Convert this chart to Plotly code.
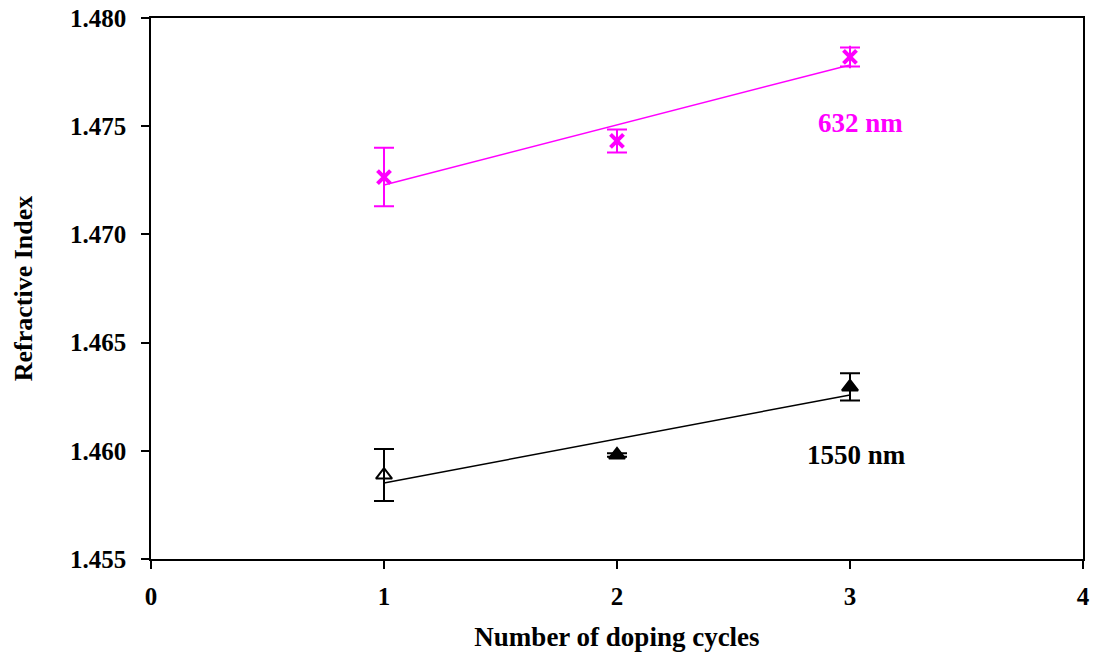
import numpy as np
import plotly.graph_objects as go

# Doping cycles and measured refractive indices
cycles = [1, 2, 3]
n_632 = [1.47265, 1.47432, 1.47820]
err_632 = [0.00135, 0.00053, 0.00044]
n_1550 = [1.45888, 1.45981, 1.46295]
err_1550 = [0.00120, 0.00008, 0.00063]

x_ticks = [0, 1, 2, 3, 4]
y_ticks = [1.455, 1.460, 1.465, 1.470, 1.475, 1.480]

MAGENTA = "#FF00FF"
FONT = "Liberation Serif"

fig = go.Figure()

# Linear fits
for ys, col in [(n_632, MAGENTA), (n_1550, "black")]:
    k, b = np.polyfit(cycles, ys, 1)
    xf = [cycles[0], cycles[-1]]
    fig.add_trace(go.Scatter(x=xf, y=[k * v + b for v in xf], mode="lines",
                             line=dict(color=col, width=1.5), showlegend=False,
                             hoverinfo="skip"))

# 632 nm points (star = cross + vertical stroke)
fig.add_trace(go.Scatter(
    x=cycles, y=n_632, mode="markers",
    marker=dict(symbol="x-thin-open", size=13, color=MAGENTA,
                line=dict(color=MAGENTA, width=4)),
    error_y=dict(type="data", array=err_632, visible=True, color=MAGENTA,
                 thickness=2, width=10),
    showlegend=False))
fig.add_trace(go.Scatter(
    x=cycles, y=n_632, mode="markers",
    marker=dict(symbol="line-ns-open", size=16, color=MAGENTA,
                line=dict(color=MAGENTA, width=2)),
    showlegend=False, hoverinfo="skip"))

# 1550 nm points (first one open)
fig.add_trace(go.Scatter(
    x=cycles, y=n_1550, mode="markers",
    marker=dict(symbol=["triangle-up-open", "triangle-up", "triangle-up"], size=14,
                color="black", line=dict(color="black", width=2)),
    error_y=dict(type="data", array=err_1550, visible=True, color="black",
                 thickness=2, width=10),
    showlegend=False))

fig.add_annotation(x=3.043, y=1.47515, text="<b>632 nm</b>", showarrow=False,
                   xanchor="center", yanchor="middle",
                   font=dict(family=FONT, size=27, color=MAGENTA))
fig.add_annotation(x=3.03, y=1.45981, text="<b>1550 nm</b>", showarrow=False,
                   xanchor="center", yanchor="middle",
                   font=dict(family=FONT, size=27, color="black"))

axis_common = dict(showgrid=False, zeroline=False, showline=True, linecolor="black",
                   linewidth=1.5, mirror=True, ticks="outside", ticklen=8,
                   tickcolor="black", tickwidth=1.5, automargin=False,
                   tickfont=dict(family=FONT, size=25, color="black"))

fig.update_xaxes(range=[0, 4], tickvals=x_ticks,
                 ticktext=[f"<b>{v}</b>" for v in x_ticks],
                 ticklabelstandoff=6,
                 title=dict(text="<b>Number of doping cycles</b>",
                            font=dict(family=FONT, size=27, color="black"),
                            standoff=18),
                 **axis_common)
fig.update_yaxes(range=[1.455, 1.480], tickvals=y_ticks,
                 ticktext=[f"<b>{v:.3f}</b>" for v in y_ticks],
                 ticklabelstandoff=10,
                 title=dict(text="<b>Refractive Index</b>",
                            font=dict(family=FONT, size=26, color="black"),
                            standoff=30),
                 **axis_common)

fig.update_layout(width=1093, height=659, plot_bgcolor="white", paper_bgcolor="white",
                  margin=dict(l=151, r=10, t=18, b=100))

fig.write_html("out.html")
